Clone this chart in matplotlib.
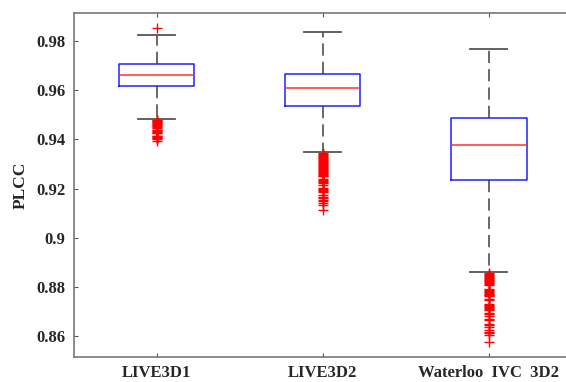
import matplotlib.pyplot as plt

# datasets on the x axis
labels = ['LIVE3D1', 'LIVE3D2', 'Waterloo  IVC  3D2']

# box statistics (PLCC)
q1 = [0.9617, 0.9536, 0.9235]
med = [0.9660, 0.9608, 0.9377]
q3 = [0.9708, 0.9665, 0.9487]
whislo = [0.9483, 0.9348, 0.8861]
whishi = [0.9826, 0.9837, 0.9769]

# outliers (red +)
fliers1 = [0.9852,
           0.9481, 0.9478, 0.9475, 0.9472, 0.9469, 0.9466, 0.9463, 0.9460,
           0.9457, 0.9454, 0.9451, 0.9448, 0.9440, 0.9437, 0.9434, 0.9431,
           0.9428, 0.9425, 0.9416, 0.9413, 0.9410, 0.9407, 0.9404, 0.9401,
           0.9392]
fliers2 = [0.9345, 0.9341, 0.9337, 0.9333, 0.9329, 0.9325, 0.9321, 0.9317,
           0.9313, 0.9309, 0.9305, 0.9301, 0.9297, 0.9293, 0.9289, 0.9285,
           0.9281, 0.9277, 0.9273, 0.9269, 0.9265, 0.9261, 0.9257, 0.9253,
           0.9250, 0.9240, 0.9236, 0.9232, 0.9228, 0.9224, 0.9214, 0.9201,
           0.9197, 0.9193, 0.9189, 0.9185, 0.9173, 0.9168, 0.9163, 0.9153,
           0.9148, 0.9143, 0.9133, 0.9115]
fliers3 = [0.8857, 0.8853, 0.8849, 0.8845, 0.8841, 0.8837, 0.8833, 0.8829,
           0.8825, 0.8821, 0.8817, 0.8813, 0.8809, 0.8794, 0.8790, 0.8786,
           0.8782, 0.8778, 0.8774, 0.8770, 0.8766, 0.8762, 0.8753, 0.8748,
           0.8733, 0.8729, 0.8725, 0.8721, 0.8717, 0.8713, 0.8709, 0.8695,
           0.8690, 0.8684, 0.8672, 0.8666, 0.8652, 0.8645, 0.8638, 0.8624,
           0.8618, 0.8612, 0.8607, 0.8577]

yticks = [0.86, 0.88, 0.90, 0.92, 0.94, 0.96, 0.98]
ytick_labels = ['0.86', '0.88', '0.9', '0.92', '0.94', '0.96', '0.98']

plt.rcParams['font.family'] = ['Liberation Serif', 'DejaVu Serif']
plt.rcParams['font.weight'] = 'bold'

fig = plt.figure(figsize=(5.66, 3.82), dpi=100)
ax = fig.add_axes([0.130, 0.0654, 0.880, 0.9006])

fliers = [fliers1, fliers2, fliers3]
stats = []
for i in range(3):
    stats.append({'med': med[i], 'q1': q1[i], 'q3': q3[i],
                  'whislo': whislo[i], 'whishi': whishi[i],
                  'fliers': fliers[i], 'label': labels[i]})

ax.bxp(stats, positions=[1, 2, 3], widths=0.456, capwidths=0.225,
       boxprops=dict(color='#2020ff', linewidth=1.1),
       medianprops=dict(color='#ff3030', linewidth=1.1),
       whiskerprops=dict(color='#404040', linewidth=1.1, dashes=(8, 4)),
       capprops=dict(color='#555555', linewidth=1.3),
       flierprops=dict(marker='+', markeredgecolor='red', markersize=7,
                       markeredgewidth=1.0, linestyle='none'))

ax.set_xlim(0.5, 3.5)
ax.set_ylim(0.8516, 0.9914)
ax.set_yticks(yticks)
ax.set_yticklabels(ytick_labels)
ax.set_ylabel('PLCC', fontsize=12.5, fontweight='bold', color='#262626',
              labelpad=5)

for s in ax.spines.values():
    s.set_color('#777777')
    s.set_linewidth(1.2)
ax.spines['right'].set_visible(False)
ax.tick_params(direction='in', top=True, right=False, length=3,
               color='#555555', labelsize=12, labelcolor='#262626')
ax.tick_params(axis='x', pad=6)
ax.tick_params(axis='y', pad=6)

plt.savefig('out.png', dpi=100)
